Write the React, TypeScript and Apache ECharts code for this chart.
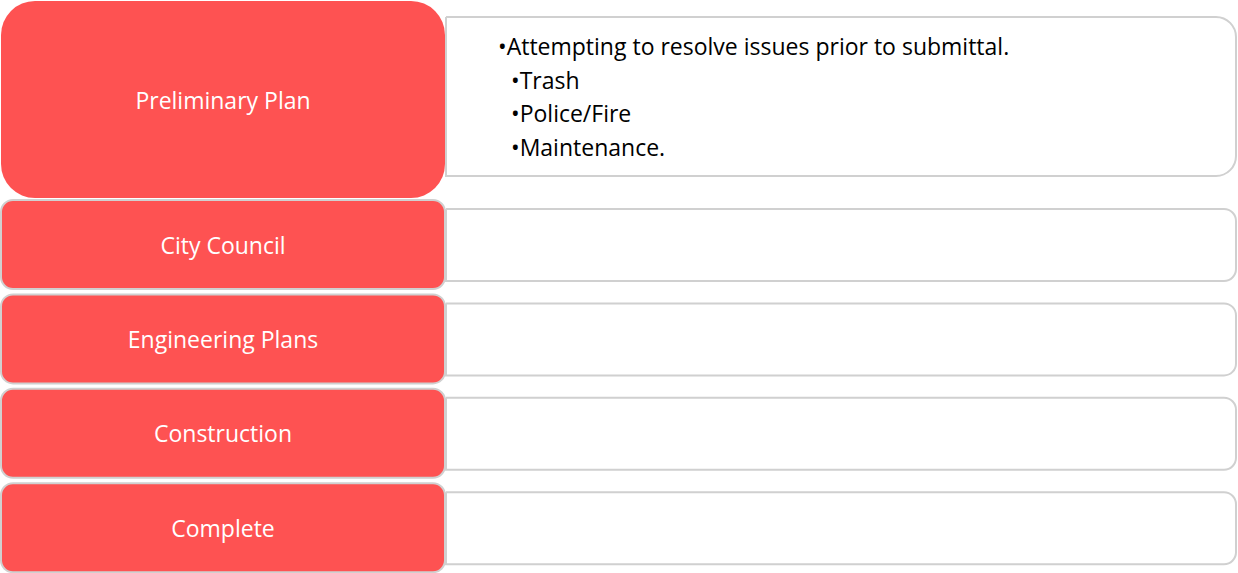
import React, { useEffect, useRef } from "react";
import * as echarts from "echarts";

const stages = ["Preliminary Plan", "City Council", "Engineering Plans", "Construction", "Complete"];
const detailLines = [
  { text: "•Attempting to resolve issues prior to submittal.", level: 0 },
  { text: "•Trash", level: 1 },
  { text: "•Police/Fire", level: 1 },
  { text: "•Maintenance.", level: 1 },
];

const RED = "#FE5252";
const GREY = "#D0D0D0";

export default function App() {
  const ref = useRef<HTMLDivElement>(null);
  useEffect(() => {
    document.body.style.margin = "0";
    const chart = echarts.init(ref.current!, null, { renderer: "svg" });
    const elements: any[] = [];
    const redX = 1, redW = 444;
    const whiteX = 446, whiteW = 790;
    const stepY = 94.4;
    const redRows = stages.map((_, i) =>
      i === 0 ? { y: 1, h: 197 } : { y: 200 + (i - 1) * stepY, h: 89 }
    );
    const whiteRows = stages.map((_, i) =>
      i === 0 ? { y: 17, h: 159 } : { y: 209 + (i - 1) * stepY, h: 72 }
    );
    stages.forEach((_, i) => {
      const r = i === 0 ? 20 : 12;
      elements.push({
        type: "rect",
        shape: { x: whiteX, y: whiteRows[i].y, width: whiteW, height: whiteRows[i].h, r: [0, r, r, 0] },
        style: { fill: "#FFFFFF", stroke: GREY, lineWidth: 2 },
        z: 1,
      });
    });
    stages.forEach((name, i) => {
      const r = i === 0 ? 34 : 12;
      elements.push({
        type: "rect",
        shape: { x: redX, y: redRows[i].y, width: redW, height: redRows[i].h, r },
        style: { fill: RED, stroke: i === 0 ? null : GREY, lineWidth: i === 0 ? 0 : 2 },
        z: 2,
      });
      elements.push({
        type: "text",
        x: redX + redW / 2,
        y: redRows[i].y + redRows[i].h / 2,
        style: {
          text: name,
          fill: "#FFFFFF",
          font: "23px 'Open Sans'",
          textAlign: "center",
          textVerticalAlign: "middle",
        },
        z: 3,
      });
    });
    detailLines.forEach((ln, j) => {
      elements.push({
        type: "text",
        x: ln.level === 0 ? 498 : 511,
        y: 46 + j * 33.7,
        style: {
          text: ln.text,
          fill: "#000000",
          font: "23px 'Open Sans'",
          textAlign: "left",
          textVerticalAlign: "middle",
        },
        z: 3,
      });
    });
    chart.setOption({
      animation: false,
      backgroundColor: "#FFFFFF",
      graphic: { elements },
    });
    return () => chart.dispose();
  }, []);
  return <div ref={ref} style={{ width: 1238, height: 573 }} />;
}
